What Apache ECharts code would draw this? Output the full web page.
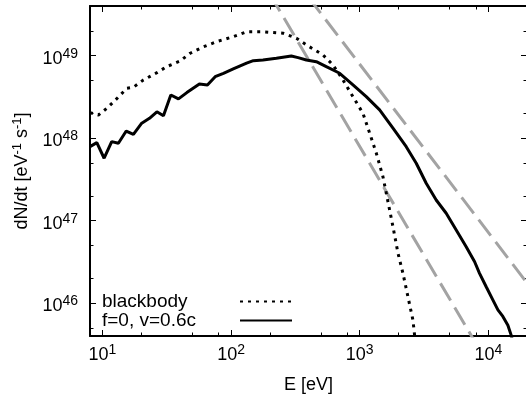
<!DOCTYPE html>
<html><head><meta charset="utf-8">
<script src="https://cdn.jsdelivr.net/npm/echarts@6/dist/echarts.min.js"></script>
<style>html,body{margin:0;padding:0;background:#fff}#c{width:526px;height:396px}</style>
</head><body><div id="c"></div>
<script>
// ---- data ----
const xRange = [8, 20000];
const yRange = [4e45, 4e49];
const xMinorTicks = [20, 50, 80, 200, 500, 800, 2000, 5000, 8000];
const yMinorTicks = [5e45, 2e46, 5e46, 2e47, 5e47, 2e48, 5e48, 2e49];

const blackbodyE = [8, 9.3, 10.8, 12.6, 15.5, 17.4, 20.8, 26.5, 31.6, 40.2, 48.1, 61, 77.5, 104, 132, 177, 254, 322, 385, 519, 620, 742, 887, 1061, 1196, 1346, 1517, 1610, 1815, 1986, 2170, 2372, 2594, 2673, 2750];
const blackbodyN = [2.04e48, 1.91e48, 2.30e48, 2.9e48, 4.03e48, 4.14e48, 5.07e48, 6.22e48, 7.36e48, 8.63e48, 1.07e49, 1.28e49, 1.48e49, 1.70e49, 1.95e49, 1.95e49, 1.87e49, 1.63e49, 1.35e49, 1.02e49, 7.7e48, 5.07e48, 3.18e48, 2.0e48, 1.15e48, 6.6e47, 3.41e47, 2.15e47, 8.45e46, 4.03e46, 2.30e46, 1.20e46, 6.25e45, 4.1e45, 3.0e45];

const jetE = [8, 9.04, 10.3, 11.8, 13.3, 15.3, 17.4, 20.2, 23.2, 26.5, 29.8, 34.0, 39.0, 45.3, 56.7, 65.5, 75.2, 87.2, 104, 132, 149, 177, 225, 294, 332, 385, 460, 550, 699, 887, 1125, 1429, 1815, 2301, 2753, 3291, 3935, 4707, 5630, 6730, 7830, 8550, 9630, 10870, 11880, 12980, 14200, 15060, 15500];
const jetN = [7.89e47, 8.82e47, 5.71e47, 9.08e47, 8.67e47, 1.22e48, 1.11e48, 1.52e48, 1.74e48, 2.09e48, 1.87e48, 3.34e48, 2.99e48, 3.57e48, 4.54e48, 4.42e48, 5.56e48, 6.12e48, 6.9e48, 8.1e48, 8.7e48, 8.87e48, 9.3e48, 9.9e48, 9.46e48, 8.87e48, 8.46e48, 7.36e48, 6.12e48, 4.42e48, 3.19e48, 2.2e48, 1.32e48, 7.89e47, 4.97e47, 2.84e47, 1.78e47, 1.23e47, 7.7e46, 4.84e46, 3.18e46, 2.30e46, 1.58e46, 1.09e46, 8.3e45, 6.9e45, 5.4e45, 4.1e45, 3.4e45];

const powerLawAE = [200, 8000];
const powerLawAN = [5.6e49, 3.26e45];
const powerLawBE = [400, 20000];
const powerLawBN = [5.1e49, 1.76e46];

const seriesNames = ['blackbody', 'f=0, v=0.6c'];

// ---- chart ----
const pairs = (xs, ys) => xs.map((x, i) => [x, ys[i]]);
const font = 'Liberation Sans';
const supRich = {
  b: {fontSize: 18, fontFamily: font, color: '#000', padding: [6, 0, 0, 0], lineHeight: 18},
  s: {fontSize: 14, fontFamily: font, color: '#000', verticalAlign: 'top', lineHeight: 14}
};
function powLabel(v) {
  const e = Math.log10(v), r = Math.round(e);
  if (Math.abs(e - r) > 1e-6) return '';
  return '{b|10}{s|' + r + '}';
}
const lineSt = {color: '#000', width: 2};
const tickSt = {color: '#000', width: 1};

function xAx(pos, minor) {
  return {
    type: 'log', logBase: 10, position: pos, min: xRange[0], max: xRange[1],
    axisLine: {show: !minor, onZero: false, lineStyle: lineSt},
    axisTick: minor ? {show: true, inside: true, length: 3.5, customValues: xMinorTicks, lineStyle: tickSt}
                    : {show: true, inside: true, length: 6, lineStyle: tickSt},
    axisLabel: (pos === 'bottom' && !minor) ? {show: true, formatter: powLabel, margin: 7, rich: supRich} : {show: false},
    splitLine: {show: false}, minorTick: {show: false}, minorSplitLine: {show: false},
    name: (pos === 'bottom' && !minor) ? 'E [eV]' : '',
    nameLocation: 'middle', nameGap: 40,
    nameTextStyle: {fontSize: 18, fontFamily: font, color: '#000'}
  };
}
function yAx(pos, minor) {
  return {
    type: 'log', logBase: 10, position: pos, min: yRange[0], max: yRange[1],
    axisLine: {show: !minor, onZero: false, lineStyle: lineSt},
    axisTick: minor ? {show: true, inside: true, length: 3.5, customValues: yMinorTicks, lineStyle: tickSt}
                    : {show: true, inside: true, length: 6, lineStyle: tickSt},
    axisLabel: (pos === 'left' && !minor) ? {show: true, formatter: powLabel, margin: 12, rich: supRich} : {show: false},
    splitLine: {show: false}, minorTick: {show: false}, minorSplitLine: {show: false},
    name: (pos === 'left' && !minor) ? '{b|dN/dt [eV}{s|-1}{b| s}{s|-1}{b|]}' : '',
    nameLocation: 'middle', nameGap: 50,
    nameTextStyle: {
      fontSize: 18, fontFamily: font, color: '#000',
      rich: {
        b: {fontSize: 18, fontFamily: font, color: '#000', padding: [5, 0, 0, 0], lineHeight: 18},
        s: {fontSize: 13, fontFamily: font, color: '#000', verticalAlign: 'top', lineHeight: 13}
      }
    }
  };
}

const chart = echarts.init(document.getElementById('c'), null, {renderer: 'canvas'});
chart.setOption({
  animation: false,
  backgroundColor: '#fff',
  grid: {left: 90, top: 6, width: 437, height: 330, outerBoundsMode: 'none', containLabel: false},
  xAxis: [xAx('bottom', false), xAx('top', false), xAx('bottom', true), xAx('top', true)],
  yAxis: [yAx('left', false), yAx('right', false), yAx('left', true), yAx('right', true)],
  legend: {
    show: true, orient: 'vertical', left: 102, top: 292, align: 'right', padding: 0,
    itemWidth: 52, itemHeight: 14, itemGap: 0, selectedMode: false,
    data: seriesNames,
    formatter: name => '{t|' + name + '}',
    itemStyle: {color: 'rgba(0,0,0,0)', borderColor: 'rgba(0,0,0,0)', borderWidth: 0},
    textStyle: {
      color: '#000', fontSize: 19, fontFamily: font,
      rich: {t: {width: 133, align: 'left', fontSize: 19, fontFamily: font, color: '#000', lineHeight: 19}}
    }
  },
  series: [
    {name: 'powerLawA', type: 'line', data: pairs(powerLawAE, powerLawAN), symbol: 'none', silent: true,
     lineStyle: {color: '#a3a3a3', width: 3, type: [20, 8]}, z: 2},
    {name: 'powerLawB', type: 'line', data: pairs(powerLawBE, powerLawBN), symbol: 'none', silent: true,
     lineStyle: {color: '#a3a3a3', width: 3, type: [20, 8]}, z: 2},
    {name: seriesNames[0], type: 'line', data: pairs(blackbodyE, blackbodyN), symbol: 'none',
     itemStyle: {color: '#000'}, lineStyle: {color: '#000', width: 3, type: [3, 5]}, z: 3},
    {name: seriesNames[1], type: 'line', data: pairs(jetE, jetN), symbol: 'none',
     itemStyle: {color: '#000'}, lineStyle: {color: '#000', width: 3}, z: 4}
  ]
});
</script></body></html>
